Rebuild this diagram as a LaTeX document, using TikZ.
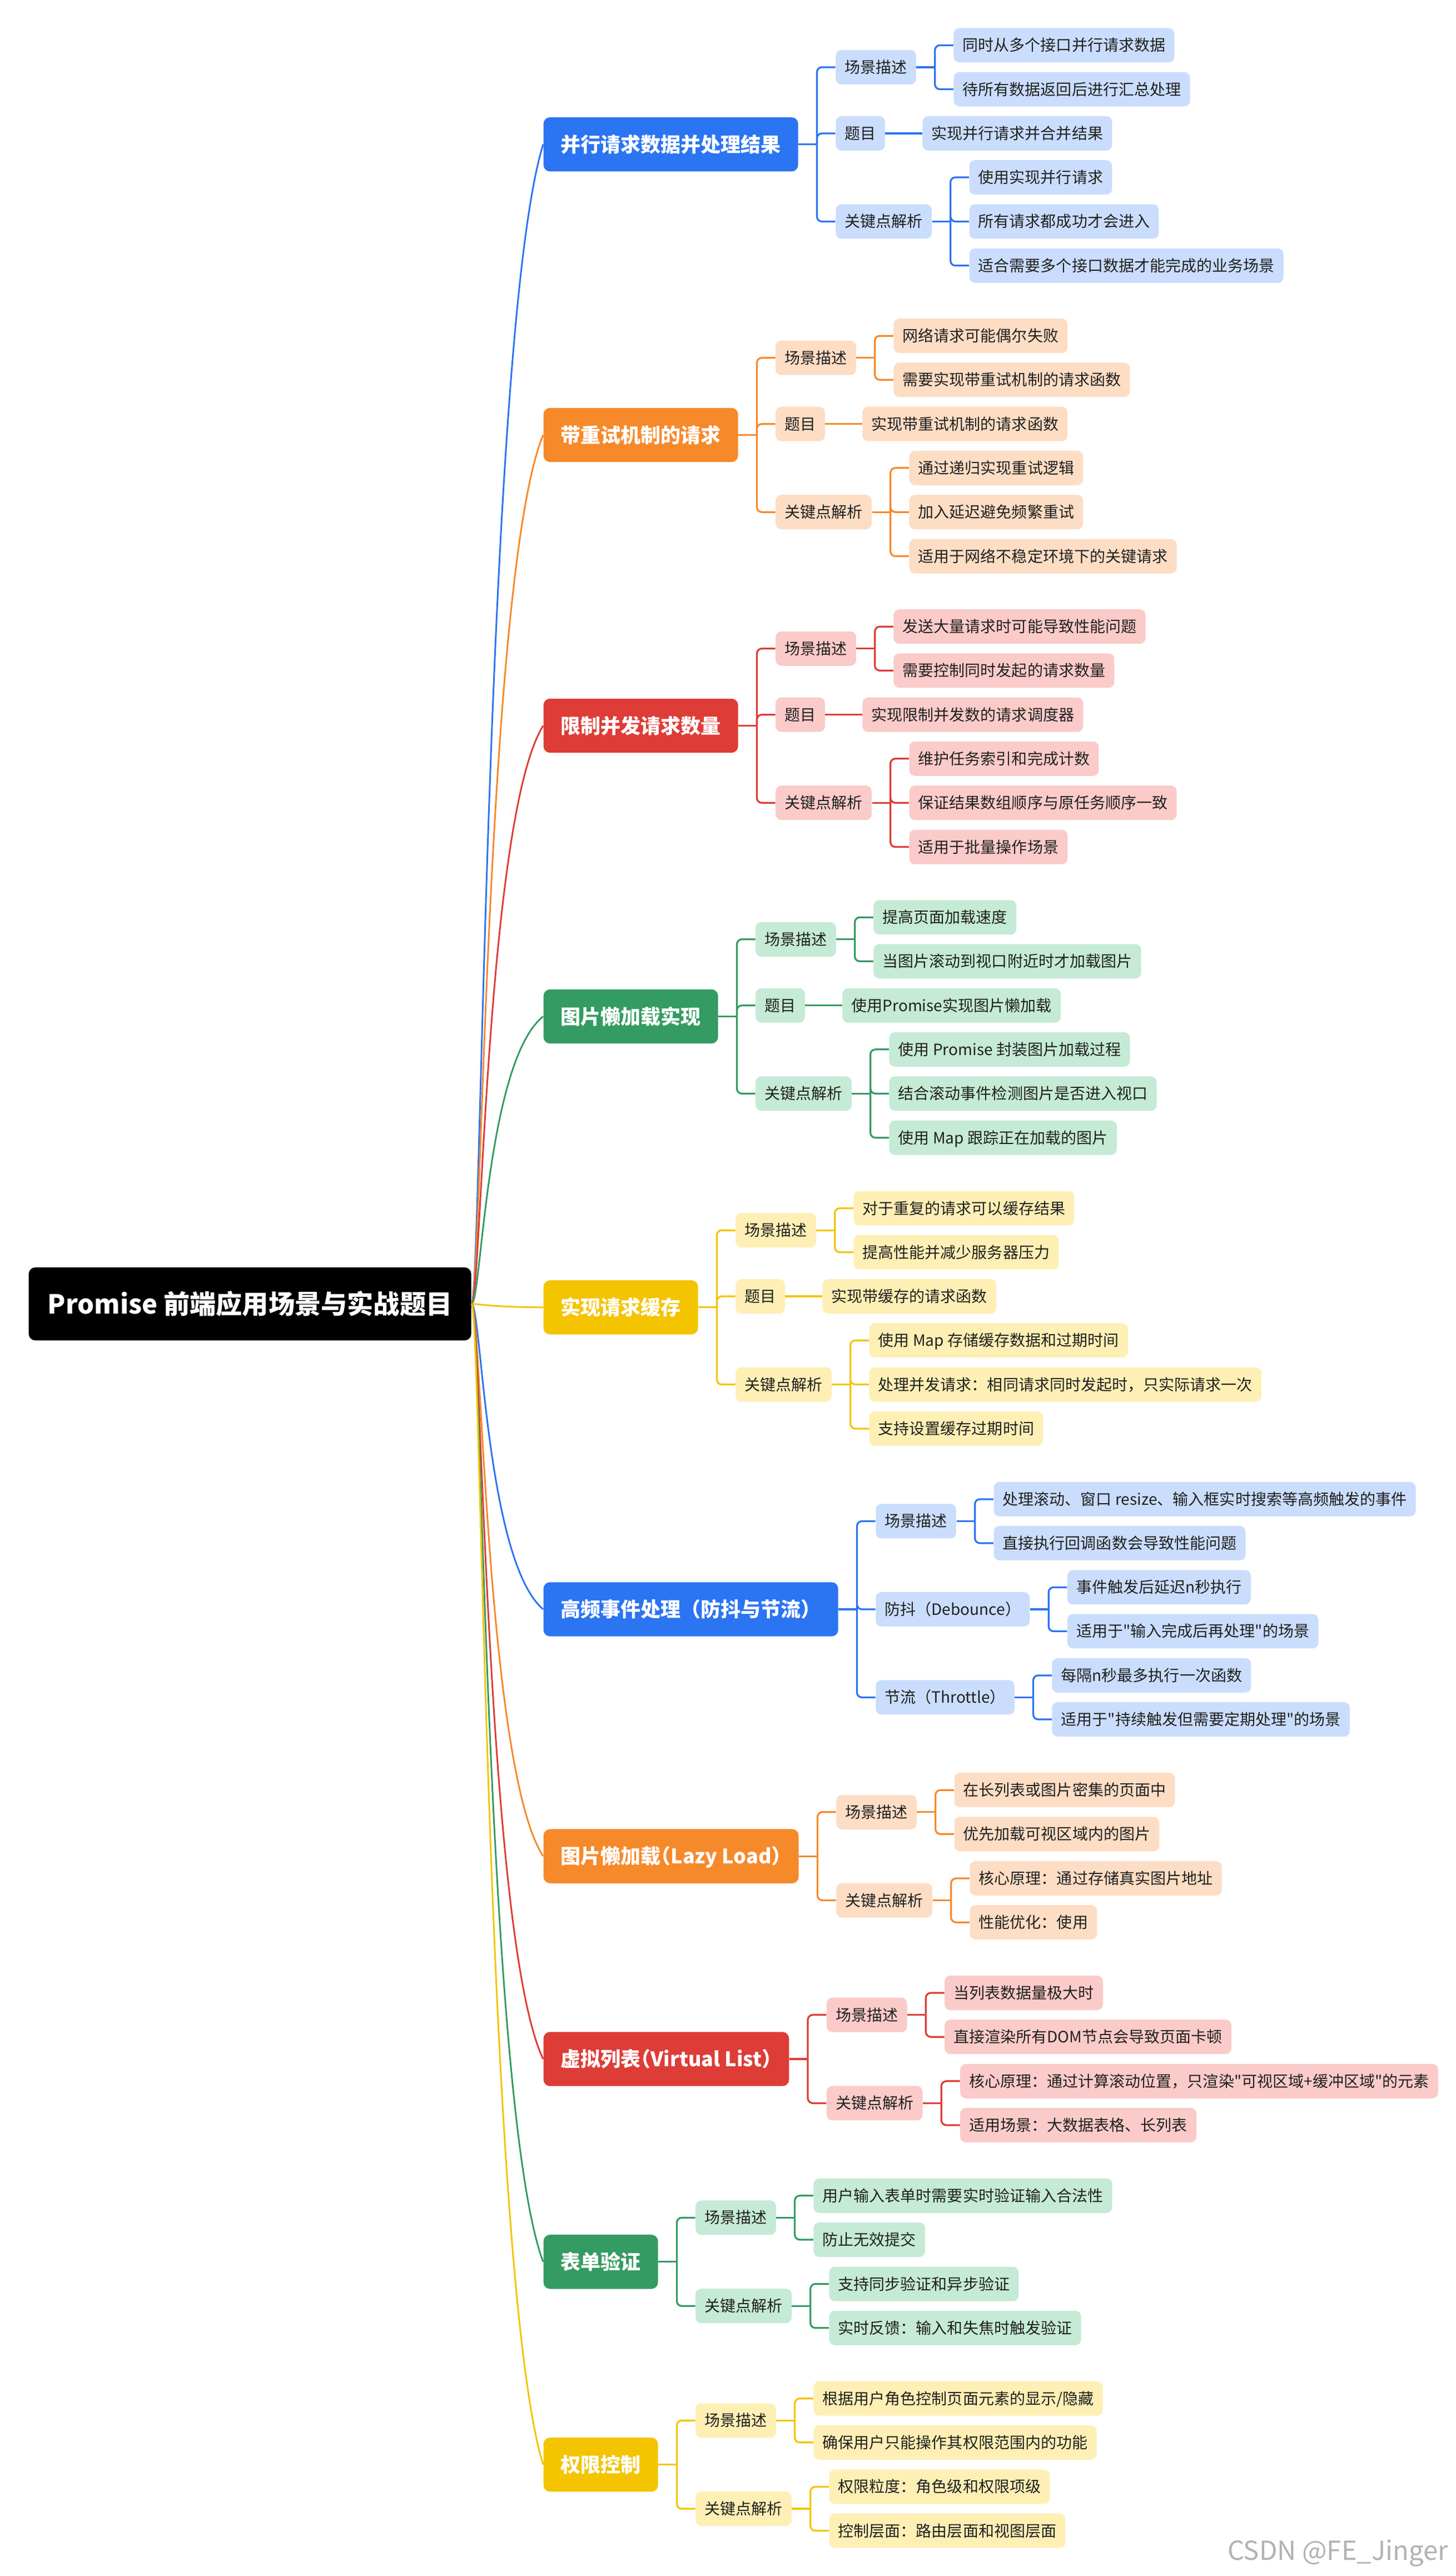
\documentclass[tikz,border=0pt]{standalone}
\usepackage{fontspec}
\setmainfont{Noto Sans CJK SC}[Ligatures=TeXOff]
\usepackage{tikz}
\usetikzlibrary{positioning}
\definecolor{mapblue}{RGB}{43,116,242}
\definecolor{mapblueL}{RGB}{202,221,253}
\definecolor{maporange}{RGB}{246,137,42}
\definecolor{maporangeL}{RGB}{253,221,196}
\definecolor{mapred}{RGB}{222,60,54}
\definecolor{mapredL}{RGB}{250,203,200}
\definecolor{mapgreen}{RGB}{52,155,98}
\definecolor{mapgreenL}{RGB}{197,234,213}
\definecolor{mapyellow}{RGB}{244,196,0}
\definecolor{mapyellowL}{RGB}{254,239,181}
\definecolor{maptext}{RGB}{32,32,32}

\begin{document}
\begin{tikzpicture}[
    x=1pt, y=1pt,
    rootbox/.style={fill=black, rounded corners=4pt, text=white, font=\fontsize{16}{18}\selectfont\bfseries, minimum height=44.5pt, inner xsep=11.5pt, inner ysep=0pt, text height=14.1pt, text depth=1.9pt},
    catbox/.style={fill=#1, rounded corners=4pt, text=white, font=\fontsize{12.2}{14}\selectfont\bfseries, minimum height=33pt, inner xsep=10.5pt, inner ysep=0pt, text height=10.7pt, text depth=1.5pt},
    tagbox/.style={fill=#1, rounded corners=3.5pt, text=maptext, font=\fontsize{9.5}{11}\selectfont, minimum height=21pt, inner xsep=5.5pt, inner ysep=0pt, text height=8.3pt, text depth=1.2pt},
    branchline/.style={draw=#1, line width=1pt},
    spine/.style={draw=#1, line width=1.1pt, rounded corners=3pt}
]
\useasboundingbox (0,0) rectangle (887,-1570);

% Root
\node[rootbox, anchor=west] (root) at (17.3,-794.7) {Promise 前端应用场景与实战题目};

% Parallel requests
\node[catbox=mapblue, anchor=west] (par) at (331,-88) {并行请求数据并处理结果};
\node[tagbox=mapblueL, right=22.5pt of par, yshift=47pt] (parS) {场景描述};
\node[tagbox=mapblueL, right=22.5pt of par, yshift=6.7pt] (parT) {题目};
\node[tagbox=mapblueL, right=22.5pt of par, yshift=-47pt] (parK) {关键点解析};
\node[tagbox=mapblueL, right=22.5pt of parS, yshift=13.4pt] (parS1) {同时从多个接口并行请求数据};
\node[tagbox=mapblueL, right=22.5pt of parS, yshift=-13.4pt] (parS2) {待所有数据返回后进行汇总处理};
\node[tagbox=mapblueL, right=22.5pt of parT] (parT1) {实现并行请求并合并结果};
\node[tagbox=mapblueL, right=22.5pt of parK, yshift=26.9pt] (parK1) {使用实现并行请求};
\node[tagbox=mapblueL, right=22.5pt of parK] (parK2) {所有请求都成功才会进入};
\node[tagbox=mapblueL, right=22.5pt of parK, yshift=-26.9pt] (parK3) {适合需要多个接口数据才能完成的业务场景};

% Retry
\node[catbox=maporange, anchor=west] (retry) at (331,-265.1) {带重试机制的请求};
\node[tagbox=maporangeL, right=22.5pt of retry, yshift=47pt] (retryS) {场景描述};
\node[tagbox=maporangeL, right=22.5pt of retry, yshift=6.7pt] (retryT) {题目};
\node[tagbox=maporangeL, right=22.5pt of retry, yshift=-47pt] (retryK) {关键点解析};
\node[tagbox=maporangeL, right=22.5pt of retryS, yshift=13.4pt] (retryS1) {网络请求可能偶尔失败};
\node[tagbox=maporangeL, right=22.5pt of retryS, yshift=-13.4pt] (retryS2) {需要实现带重试机制的请求函数};
\node[tagbox=maporangeL, right=22.5pt of retryT] (retryT1) {实现带重试机制的请求函数};
\node[tagbox=maporangeL, right=22.5pt of retryK, yshift=26.9pt] (retryK1) {通过递归实现重试逻辑};
\node[tagbox=maporangeL, right=22.5pt of retryK] (retryK2) {加入延迟避免频繁重试};
\node[tagbox=maporangeL, right=22.5pt of retryK, yshift=-26.9pt] (retryK3) {适用于网络不稳定环境下的关键请求};

% Concurrency limit
\node[catbox=mapred, anchor=west] (limit) at (331,-442.3) {限制并发请求数量};
\node[tagbox=mapredL, right=22.5pt of limit, yshift=47pt] (limitS) {场景描述};
\node[tagbox=mapredL, right=22.5pt of limit, yshift=6.7pt] (limitT) {题目};
\node[tagbox=mapredL, right=22.5pt of limit, yshift=-47pt] (limitK) {关键点解析};
\node[tagbox=mapredL, right=22.5pt of limitS, yshift=13.4pt] (limitS1) {发送大量请求时可能导致性能问题};
\node[tagbox=mapredL, right=22.5pt of limitS, yshift=-13.4pt] (limitS2) {需要控制同时发起的请求数量};
\node[tagbox=mapredL, right=22.5pt of limitT] (limitT1) {实现限制并发数的请求调度器};
\node[tagbox=mapredL, right=22.5pt of limitK, yshift=26.9pt] (limitK1) {维护任务索引和完成计数};
\node[tagbox=mapredL, right=22.5pt of limitK] (limitK2) {保证结果数组顺序与原任务顺序一致};
\node[tagbox=mapredL, right=22.5pt of limitK, yshift=-26.9pt] (limitK3) {适用于批量操作场景};

% Lazy images
\node[catbox=mapgreen, anchor=west] (lazy) at (331,-619.5) {图片懒加载实现};
\node[tagbox=mapgreenL, right=22.5pt of lazy, yshift=47pt] (lazyS) {场景描述};
\node[tagbox=mapgreenL, right=22.5pt of lazy, yshift=6.7pt] (lazyT) {题目};
\node[tagbox=mapgreenL, right=22.5pt of lazy, yshift=-47pt] (lazyK) {关键点解析};
\node[tagbox=mapgreenL, right=22.5pt of lazyS, yshift=13.4pt] (lazyS1) {提高页面加载速度};
\node[tagbox=mapgreenL, right=22.5pt of lazyS, yshift=-13.4pt] (lazyS2) {当图片滚动到视口附近时才加载图片};
\node[tagbox=mapgreenL, right=22.5pt of lazyT] (lazyT1) {使用Promise实现图片懒加载};
\node[tagbox=mapgreenL, right=22.5pt of lazyK, yshift=26.9pt] (lazyK1) {使用 Promise 封装图片加载过程};
\node[tagbox=mapgreenL, right=22.5pt of lazyK] (lazyK2) {结合滚动事件检测图片是否进入视口};
\node[tagbox=mapgreenL, right=22.5pt of lazyK, yshift=-26.9pt] (lazyK3) {使用 Map 跟踪正在加载的图片};

% Request cache
\node[catbox=mapyellow, anchor=west] (cache) at (331,-796.8) {实现请求缓存};
\node[tagbox=mapyellowL, right=22.5pt of cache, yshift=47pt] (cacheS) {场景描述};
\node[tagbox=mapyellowL, right=22.5pt of cache, yshift=6.7pt] (cacheT) {题目};
\node[tagbox=mapyellowL, right=22.5pt of cache, yshift=-47pt] (cacheK) {关键点解析};
\node[tagbox=mapyellowL, right=22.5pt of cacheS, yshift=13.4pt] (cacheS1) {对于重复的请求可以缓存结果};
\node[tagbox=mapyellowL, right=22.5pt of cacheS, yshift=-13.4pt] (cacheS2) {提高性能并减少服务器压力};
\node[tagbox=mapyellowL, right=22.5pt of cacheT] (cacheT1) {实现带缓存的请求函数};
\node[tagbox=mapyellowL, right=22.5pt of cacheK, yshift=26.9pt] (cacheK1) {使用 Map 存储缓存数据和过期时间};
\node[tagbox=mapyellowL, right=22.5pt of cacheK] (cacheK2) {处理并发请求：相同请求同时发起时，只实际请求一次};
\node[tagbox=mapyellowL, right=22.5pt of cacheK, yshift=-26.9pt] (cacheK3) {支持设置缓存过期时间};

% High-frequency events
\node[catbox=mapblue, anchor=west] (event) at (331,-980.8) {高频事件处理（防抖与节流）};
\node[tagbox=mapblueL, right=22.5pt of event, yshift=53.7pt] (eventS) {场景描述};
\node[tagbox=mapblueL, right=22.5pt of event] (eventD) {防抖（Debounce）};
\node[tagbox=mapblueL, right=22.5pt of event, yshift=-53.7pt] (eventT) {节流（Throttle）};
\node[tagbox=mapblueL, right=22.5pt of eventS, yshift=13.4pt] (eventS1) {处理滚动、窗口 resize、输入框实时搜索等高频触发的事件};
\node[tagbox=mapblueL, right=22.5pt of eventS, yshift=-13.4pt] (eventS2) {直接执行回调函数会导致性能问题};
\node[tagbox=mapblueL, right=22.5pt of eventD, yshift=13.4pt] (eventD1) {事件触发后延迟n秒执行};
\node[tagbox=mapblueL, right=22.5pt of eventD, yshift=-13.4pt] (eventD2) {适用于"输入完成后再处理"的场景};
\node[tagbox=mapblueL, right=22.5pt of eventT, yshift=13.4pt] (eventT1) {每隔n秒最多执行一次函数};
\node[tagbox=mapblueL, right=22.5pt of eventT, yshift=-13.4pt] (eventT2) {适用于"持续触发但需要定期处理"的场景};

% Lazy load
\node[catbox=maporange, anchor=west] (lazyld) at (331,-1131.3) {\addfontfeatures{RawFeature=+halt}图片懒加载（Lazy Load）};
\node[tagbox=maporangeL, right=22.5pt of lazyld, yshift=26.9pt] (lazyldS) {场景描述};
\node[tagbox=maporangeL, right=22.5pt of lazyld, yshift=-26.9pt] (lazyldK) {关键点解析};
\node[tagbox=maporangeL, right=22.5pt of lazyldS, yshift=13.4pt] (lazyldS1) {在长列表或图片密集的页面中};
\node[tagbox=maporangeL, right=22.5pt of lazyldS, yshift=-13.4pt] (lazyldS2) {优先加载可视区域内的图片};
\node[tagbox=maporangeL, right=22.5pt of lazyldK, yshift=13.4pt] (lazyldK1) {核心原理：通过存储真实图片地址};
\node[tagbox=maporangeL, right=22.5pt of lazyldK, yshift=-13.4pt] (lazyldK2) {性能优化：使用};

% Virtual list
\node[catbox=mapred, anchor=west] (vlist) at (331,-1254.9) {\addfontfeatures{RawFeature=+halt}虚拟列表（Virtual List）};
\node[tagbox=mapredL, right=22.5pt of vlist, yshift=26.9pt] (vlistS) {场景描述};
\node[tagbox=mapredL, right=22.5pt of vlist, yshift=-26.9pt] (vlistK) {关键点解析};
\node[tagbox=mapredL, right=22.5pt of vlistS, yshift=13.4pt] (vlistS1) {当列表数据量极大时};
\node[tagbox=mapredL, right=22.5pt of vlistS, yshift=-13.4pt] (vlistS2) {直接渲染所有DOM节点会导致页面卡顿};
\node[tagbox=mapredL, right=22.5pt of vlistK, yshift=13.4pt] (vlistK1) {核心原理：通过计算滚动位置，只渲染"可视区域+缓冲区域"的元素};
\node[tagbox=mapredL, right=22.5pt of vlistK, yshift=-13.4pt] (vlistK2) {适用场景：大数据表格、长列表};

% Form validation
\node[catbox=mapgreen, anchor=west] (form) at (331,-1378.5) {表单验证};
\node[tagbox=mapgreenL, right=22.5pt of form, yshift=26.9pt] (formS) {场景描述};
\node[tagbox=mapgreenL, right=22.5pt of form, yshift=-26.9pt] (formK) {关键点解析};
\node[tagbox=mapgreenL, right=22.5pt of formS, yshift=13.4pt] (formS1) {用户输入表单时需要实时验证输入合法性};
\node[tagbox=mapgreenL, right=22.5pt of formS, yshift=-13.4pt] (formS2) {防止无效提交};
\node[tagbox=mapgreenL, right=22.5pt of formK, yshift=13.4pt] (formK1) {支持同步验证和异步验证};
\node[tagbox=mapgreenL, right=22.5pt of formK, yshift=-13.4pt] (formK2) {实时反馈：输入和失焦时触发验证};

% Permission control
\node[catbox=mapyellow, anchor=west] (perm) at (331,-1502.1) {权限控制};
\node[tagbox=mapyellowL, right=22.5pt of perm, yshift=26.9pt] (permS) {场景描述};
\node[tagbox=mapyellowL, right=22.5pt of perm, yshift=-26.9pt] (permK) {关键点解析};
\node[tagbox=mapyellowL, right=22.5pt of permS, yshift=13.4pt] (permS1) {根据用户角色控制页面元素的显示/隐藏};
\node[tagbox=mapyellowL, right=22.5pt of permS, yshift=-13.4pt] (permS2) {确保用户只能操作其权限范围内的功能};
\node[tagbox=mapyellowL, right=22.5pt of permK, yshift=13.4pt] (permK1) {权限粒度：角色级和权限项级};
\node[tagbox=mapyellowL, right=22.5pt of permK, yshift=-13.4pt] (permK2) {控制层面：路由层面和视图层面};

% Watermark
\node[anchor=east, text=black!30, font=\fontsize{16}{18}\selectfont] (wm) at (886,-1556) {CSDN @FE\_Jinger};

% Root links
\foreach \b/\col/\k in {par/mapblue/-113.0, retry/maporange/-84.7, limit/mapred/-56.4, lazy/mapgreen/-28.0, cache/mapyellow/0.3, event/mapblue/29.8, lazyld/maporange/53.9, vlist/mapred/73.6, form/mapgreen/93.4, perm/mapyellow/113.1}
  \draw[branchline=\col] (root.east) .. controls +(6,0) and +(-35,\k) .. (\b.west);

% Branch links
\foreach \p/\col/\kids in {
    par/mapblue/{parS,parT,parK}, parS/mapblue/{parS1,parS2}, parK/mapblue/{parK1,parK2,parK3},
    retry/maporange/{retryS,retryT,retryK}, retryS/maporange/{retryS1,retryS2}, retryK/maporange/{retryK1,retryK2,retryK3},
    limit/mapred/{limitS,limitT,limitK}, limitS/mapred/{limitS1,limitS2}, limitK/mapred/{limitK1,limitK2,limitK3},
    lazy/mapgreen/{lazyS,lazyT,lazyK}, lazyS/mapgreen/{lazyS1,lazyS2}, lazyK/mapgreen/{lazyK1,lazyK2,lazyK3},
    cache/mapyellow/{cacheS,cacheT,cacheK}, cacheS/mapyellow/{cacheS1,cacheS2}, cacheK/mapyellow/{cacheK1,cacheK2,cacheK3},
    event/mapblue/{eventS,eventD,eventT}, eventS/mapblue/{eventS1,eventS2}, eventD/mapblue/{eventD1,eventD2}, eventT/mapblue/{eventT1,eventT2},
    lazyld/maporange/{lazyldS,lazyldK}, lazyldS/maporange/{lazyldS1,lazyldS2}, lazyldK/maporange/{lazyldK1,lazyldK2},
    vlist/mapred/{vlistS,vlistK}, vlistS/mapred/{vlistS1,vlistS2}, vlistK/mapred/{vlistK1,vlistK2},
    form/mapgreen/{formS,formK}, formS/mapgreen/{formS1,formS2}, formK/mapgreen/{formK1,formK2},
    perm/mapyellow/{permS,permK}, permS/mapyellow/{permS1,permS2}, permK/mapyellow/{permK1,permK2}}{
  \coordinate (\p-j) at ([xshift=11.25pt]\p.east);
  \draw[spine=\col] (\p.east) -- (\p-j);
  \foreach \q in \kids
    \draw[spine=\col] (\p-j) |- (\q.west);
}

% Single task links
\foreach \t/\col in {parT/mapblue, retryT/maporange, limitT/mapred, lazyT/mapgreen, cacheT/mapyellow}
  \draw[spine=\col] (\t) -- (\t1);

\end{tikzpicture}
\end{document}
